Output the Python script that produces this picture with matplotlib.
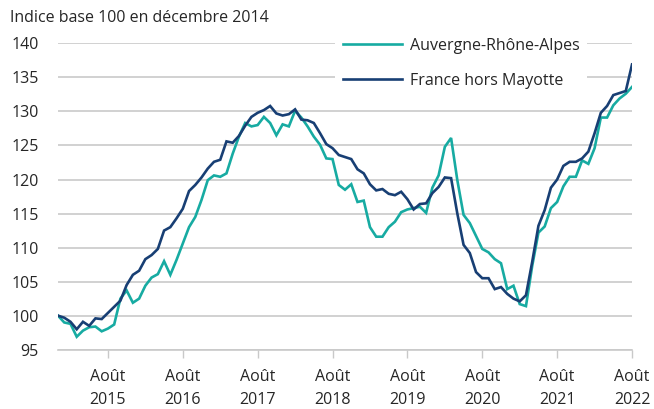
import matplotlib
matplotlib.use("Agg")
import matplotlib.pyplot as plt
import numpy as np

plt.rcParams['font.family'] = ['Open Sans', 'DejaVu Sans']

# Monthly index, December 2014 = 100, from Dec 2014 to Aug 2022
aura = [100.0, 99.0, 98.8, 96.9, 97.8, 98.3, 98.4, 97.7, 98.1, 98.7,
        102.5, 103.7, 101.9, 102.5, 104.4, 105.6, 106.1, 108.0, 106.0, 108.2,
        110.6, 113.0, 114.5, 117.0, 119.9, 120.6, 120.4, 120.9, 123.8, 126.3,
        128.3, 127.8, 128.0, 129.2, 128.3, 126.5, 128.1, 127.8, 130.1, 129.1,
        127.8, 126.3, 125.1, 123.1, 123.0, 119.2, 118.5, 119.3, 116.7, 116.9,
        113.0, 111.6, 111.6, 113.0, 113.8, 115.2, 115.6, 115.8, 116.0, 115.1,
        118.8, 120.6, 124.8, 126.1, 119.9, 114.8, 113.6, 111.7, 109.8, 109.3,
        108.3, 107.7, 103.9, 104.4, 101.7, 101.4, 107.3, 112.2, 113.1, 115.8,
        116.7, 119.0, 120.4, 120.4, 122.8, 122.3, 124.6, 129.1, 129.1, 130.9,
        131.9, 132.6, 133.6]
france = [100.0, 99.7, 99.1, 98.0, 99.1, 98.5, 99.6, 99.5, 100.4, 101.3,
          102.2, 104.5, 106.0, 106.6, 108.3, 108.9, 109.8, 112.5, 113.0, 114.3,
          115.7, 118.3, 119.2, 120.3, 121.6, 122.6, 122.9, 125.6, 125.4, 126.4,
          127.9, 129.2, 129.8, 130.2, 130.8, 129.7, 129.4, 129.6, 130.3, 128.8,
          128.7, 128.3, 126.8, 125.2, 124.6, 123.6, 123.3, 123.0, 121.5, 120.9,
          119.3, 118.4, 118.6, 117.9, 117.7, 118.2, 117.1, 115.6, 116.4, 116.5,
          118.0, 118.9, 120.3, 120.2, 115.0, 110.4, 109.2, 106.4, 105.5, 105.5,
          103.9, 104.2, 103.2, 102.5, 102.1, 103.0, 107.9, 113.2, 115.5, 118.8,
          120.0, 122.0, 122.6, 122.6, 123.1, 124.1, 126.8, 129.8, 130.8, 132.4,
          132.7, 133.0, 136.9]
series_names = ["Auvergne-Rhône-Alpes", "France hors Mayotte"]
tick_months = [8, 20, 32, 44, 56, 68, 80, 92]
tick_labels = ["Août\n2015", "Août\n2016", "Août\n2017", "Août\n2018",
               "Août\n2019", "Août\n2020", "Août\n2021", "Août\n2022"]
y_ticks = [95, 100, 105, 110, 115, 120, 125, 130, 135, 140]
title = "Indice base 100 en décembre 2014"

months = np.arange(len(france))

TEAL = "#17aba2"
NAVY = "#183f74"
GRID = "#c9c9c9"
TXT = "#262626"

fig = plt.figure(figsize=(6.54, 4.09), dpi=100)
ax = fig.add_axes([0.0887, 0.145, 0.8777, 0.749])

ax.plot(months, aura, color=TEAL, lw=1.9, label=series_names[0],
        solid_joinstyle='miter', zorder=3)
ax.plot(months, france, color=NAVY, lw=1.9, label=series_names[1],
        solid_joinstyle='miter', zorder=4)

ax.set_xlim(0, months[-1])
ax.set_ylim(95, 140)
ax.set_yticks(y_ticks)
ax.set_yticklabels([str(v) for v in y_ticks])
ax.set_xticks(tick_months)
ax.set_xticklabels(tick_labels, linespacing=1.55)

ax.grid(axis='y', color=GRID, lw=1.2, zorder=0)
ax.set_axisbelow(True)
for s in ['top', 'right', 'left']:
    ax.spines[s].set_visible(False)
ax.spines['bottom'].set_color(GRID)
ax.spines['bottom'].set_linewidth(1.2)

ax.tick_params(axis='y', length=0, pad=14, labelsize=11.5, labelcolor=TXT)
ax.tick_params(axis='x', length=6, width=1, color=GRID, pad=8,
               labelsize=11.5, labelcolor=TXT)

fig.text(10/654, 1 - 18/409, title, ha='left', va='center',
         fontsize=11.5, color=TXT)

leg = ax.legend(loc='upper left', bbox_to_anchor=(0.483, 1.045),
                frameon=True, fancybox=False, framealpha=1,
                facecolor='white', edgecolor='none',
                handlelength=3.7, handletextpad=0.45, labelspacing=1.2,
                borderpad=0.5, fontsize=11.5, borderaxespad=0)
for t in leg.get_texts():
    t.set_color(TXT)
leg.set_zorder(10)

fig.savefig("out.png", dpi=100)
